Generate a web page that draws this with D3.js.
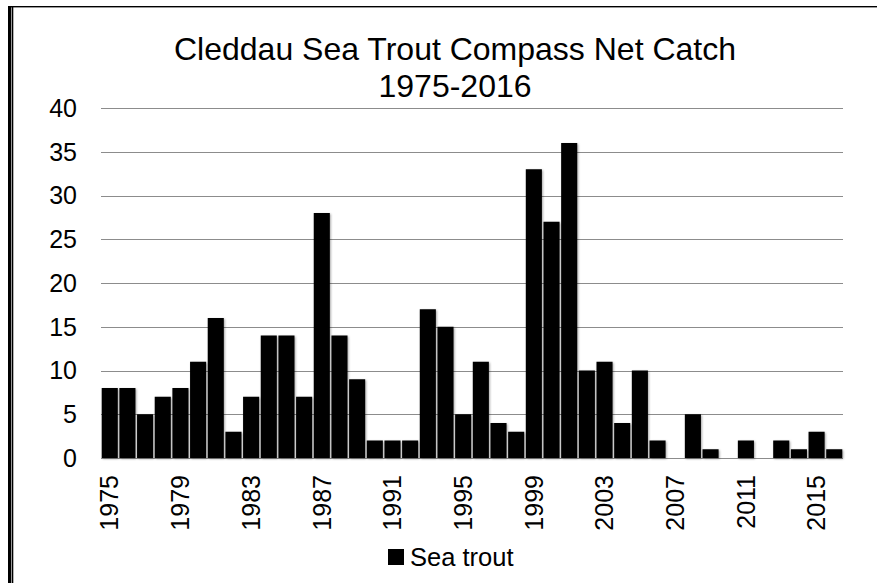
<!DOCTYPE html>
<html lang="en">
<head>
    <meta charset="UTF-8">
    <title>Cleddau Sea Trout Compass Net Catch</title>
    <script src="https://d3js.org/d3.v7.min.js"></script>
    <style>
        body { margin: 0; background: #fff; }
        svg { display: block; font-family: Arial, "Liberation Sans", sans-serif; }
        .grid line { stroke: #8c8c8c; stroke-width: 1.2; }
    </style>
</head>
<body>
    <div id="chart"></div>
    <script>
        // Data
        const years = d3.range(1975, 2017).map(String);
        const catches = [8, 8, 5, 7, 8, 11, 16, 3, 7, 14, 14, 7, 28, 14, 9, 2, 2, 2, 17, 15, 5, 11, 4, 3,
                         33, 27, 36, 10, 11, 4, 10, 2, 0, 5, 1, 0, 2, 0, 2, 1, 3, 1];
        const yTicks = [0, 5, 10, 15, 20, 25, 30, 35, 40];
        const xTickLabels = years.filter((d, i) => i % 4 === 0);
        const titleLines = ['Cleddau Sea Trout Compass Net Catch', '1975-2016'];
        const seriesName = 'Sea trout';

        const width = 877, height = 583;
        const plot = { left: 101, right: 843, top: 108, bottom: 458 };

        const svg = d3.select('#chart').append('svg')
            .attr('width', width)
            .attr('height', height);

        // frame at left and top
        svg.append('rect').attr('x', 8).attr('y', 6).attr('width', 3).attr('height', height - 6).attr('fill', '#000');
        svg.append('rect').attr('x', 11).attr('y', 7).attr('width', 1).attr('height', height - 7).attr('fill', '#999');
        svg.append('rect').attr('x', 12).attr('y', 7).attr('width', 1.3).attr('height', height - 7).attr('fill', '#000');
        svg.append('rect').attr('x', 8).attr('y', 6).attr('width', width - 8).attr('height', 1.4).attr('fill', '#000');

        const x = d3.scaleBand()
            .domain(years)
            .range([plot.left, plot.right])
            .paddingInner(0.09)
            .paddingOuter(0.04);

        const y = d3.scaleLinear()
            .domain([0, 40])
            .range([plot.bottom, plot.top]);

        // gridlines
        svg.append('g')
            .attr('class', 'grid')
            .selectAll('line')
            .data(yTicks)
            .enter()
            .append('line')
            .attr('x1', plot.left)
            .attr('x2', plot.right)
            .attr('y1', d => Math.round(y(d)) + 0.5)
            .attr('y2', d => Math.round(y(d)) + 0.5);

        // y labels
        svg.append('g')
            .selectAll('text')
            .data(yTicks)
            .enter()
            .append('text')
            .attr('x', 77)
            .attr('y', d => y(d))
            .attr('dy', '0.35em')
            .attr('text-anchor', 'end')
            .attr('font-size', 25)
            .text(d => d);

        // bars with a faint shadow
        const defs = svg.append('defs');
        const f = defs.append('filter').attr('id', 'shadow')
            .attr('x', '-20%').attr('y', '-5%').attr('width', '140%').attr('height', '110%');
        f.append('feDropShadow').attr('dx', 1).attr('dy', 1).attr('stdDeviation', 0.8)
            .attr('flood-color', '#000').attr('flood-opacity', 0.35);

        svg.append('g')
            .attr('filter', 'url(#shadow)')
            .selectAll('rect')
            .data(catches.map((v, i) => ({ year: years[i], value: v })).filter(d => d.value > 0))
            .enter()
            .append('rect')
            .attr('x', d => x(d.year))
            .attr('y', d => y(d.value))
            .attr('width', x.bandwidth())
            .attr('height', d => y(0) - y(d.value))
            .attr('fill', '#000');

        // x labels, rotated
        svg.append('g')
            .selectAll('text')
            .data(xTickLabels)
            .enter()
            .append('text')
            .attr('transform', d => `translate(${x(d) + x.bandwidth() / 2},475) rotate(-90)`)
            .attr('dy', '0.35em')
            .attr('text-anchor', 'end')
            .attr('font-size', 25)
            .text(d => d);

        // title
        svg.append('text')
            .attr('x', 455)
            .attr('text-anchor', 'middle')
            .attr('font-size', 32)
            .selectAll('tspan')
            .data(titleLines)
            .enter()
            .append('tspan')
            .attr('x', 455)
            .attr('y', (d, i) => 60 + i * 37)
            .text(d => d);

        // legend
        svg.append('rect').attr('x', 388).attr('y', 549).attr('width', 16).attr('height', 16).attr('fill', '#000');
        svg.append('text')
            .attr('x', 410)
            .attr('y', 566)
            .attr('font-size', 25.5)
            .text(seriesName);
    </script>
</body>
</html>
